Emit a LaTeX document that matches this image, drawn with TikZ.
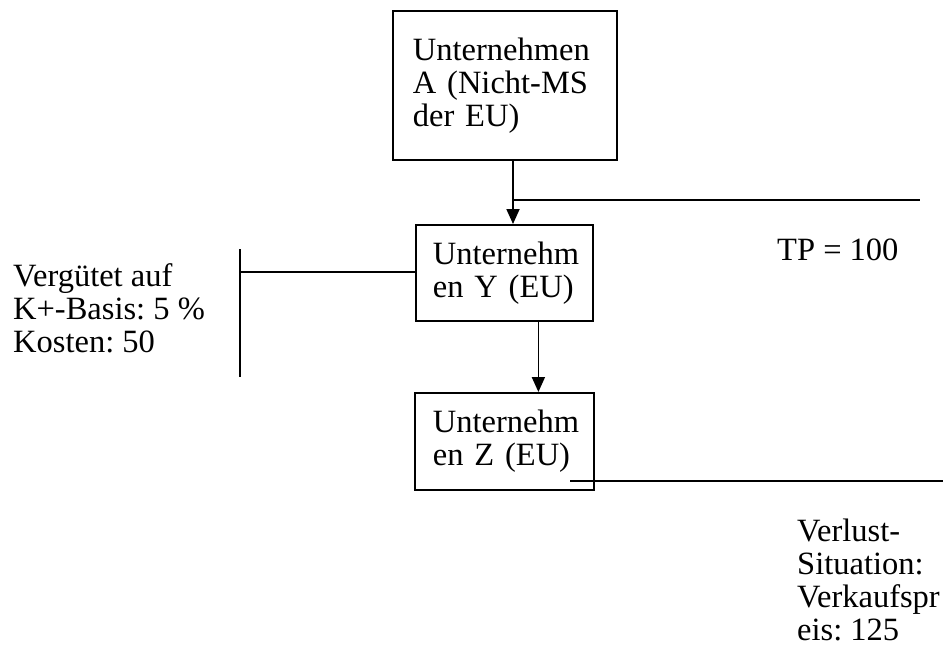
\documentclass[tikz,border=0pt]{standalone}
\usepackage{fontspec}
\setmainfont{Liberation Serif}
\usetikzlibrary{arrows.meta}

\begin{document}
\frenchspacing
\begin{tikzpicture}[
    x=1pt, y=-1pt,
    every node/.style={font=\fontsize{32.5}{33}\selectfont, align=left},
    firm/.style={draw, line width=1.8pt, rectangle, anchor=north west, inner xsep=20pt},
    note/.style={anchor=north west, inner sep=0pt},
    link/.style={line width=1.8pt},
    arrow/.style={link, -{Triangle[width=13pt,length=15pt]}}
]
\useasboundingbox (0,0) rectangle (943,651);

\node (firmA) [firm, text width=184pt, minimum height=149pt] at (392,10) {Unternehmen\\A (Nicht-MS\\der EU)};
\node (firmY) [firm, text width=143pt, inner xsep=17pt, minimum height=96pt] at (415,224) {Unternehm\\en Y (EU)};
\node (firmZ) [firm, text width=143pt, inner xsep=18pt, minimum height=97pt] at (414,392) {Unternehm\\en Z (EU)};

\node (tp) [note] at (777,239) {TP = 100};
\node (fee) [note] at (13,263) {Vergütet auf\\K+-Basis: 5 \%\\Kosten: 50};
\node (loss) [note] at (797,519) {Verlust-\\Situation:\\Verkaufspr\\eis: 125};

\coordinate (tpfork) at (513,200);
\coordinate (tpend) at (920,200);
\coordinate (feejoin) at (240,272);
\coordinate (feetop) at (240,249);
\coordinate (feebot) at (240,377);
\coordinate (lossstart) at (570,481);
\coordinate (lossend) at (943,481);

\draw[arrow] (firmA.south -| tpfork) -- (firmY.north -| tpfork);
\draw[link] (tpfork) -- (tpend);
\draw[link] (firmY.west |- feejoin) -- (feejoin);
\draw[link] (feetop) -- (feebot);
\draw[arrow] ([xshift=34pt]firmY.south) -- ([xshift=34pt]firmY.south |- firmZ.north);
\draw[link] (lossstart) -- (lossend);

\end{tikzpicture}
\end{document}
